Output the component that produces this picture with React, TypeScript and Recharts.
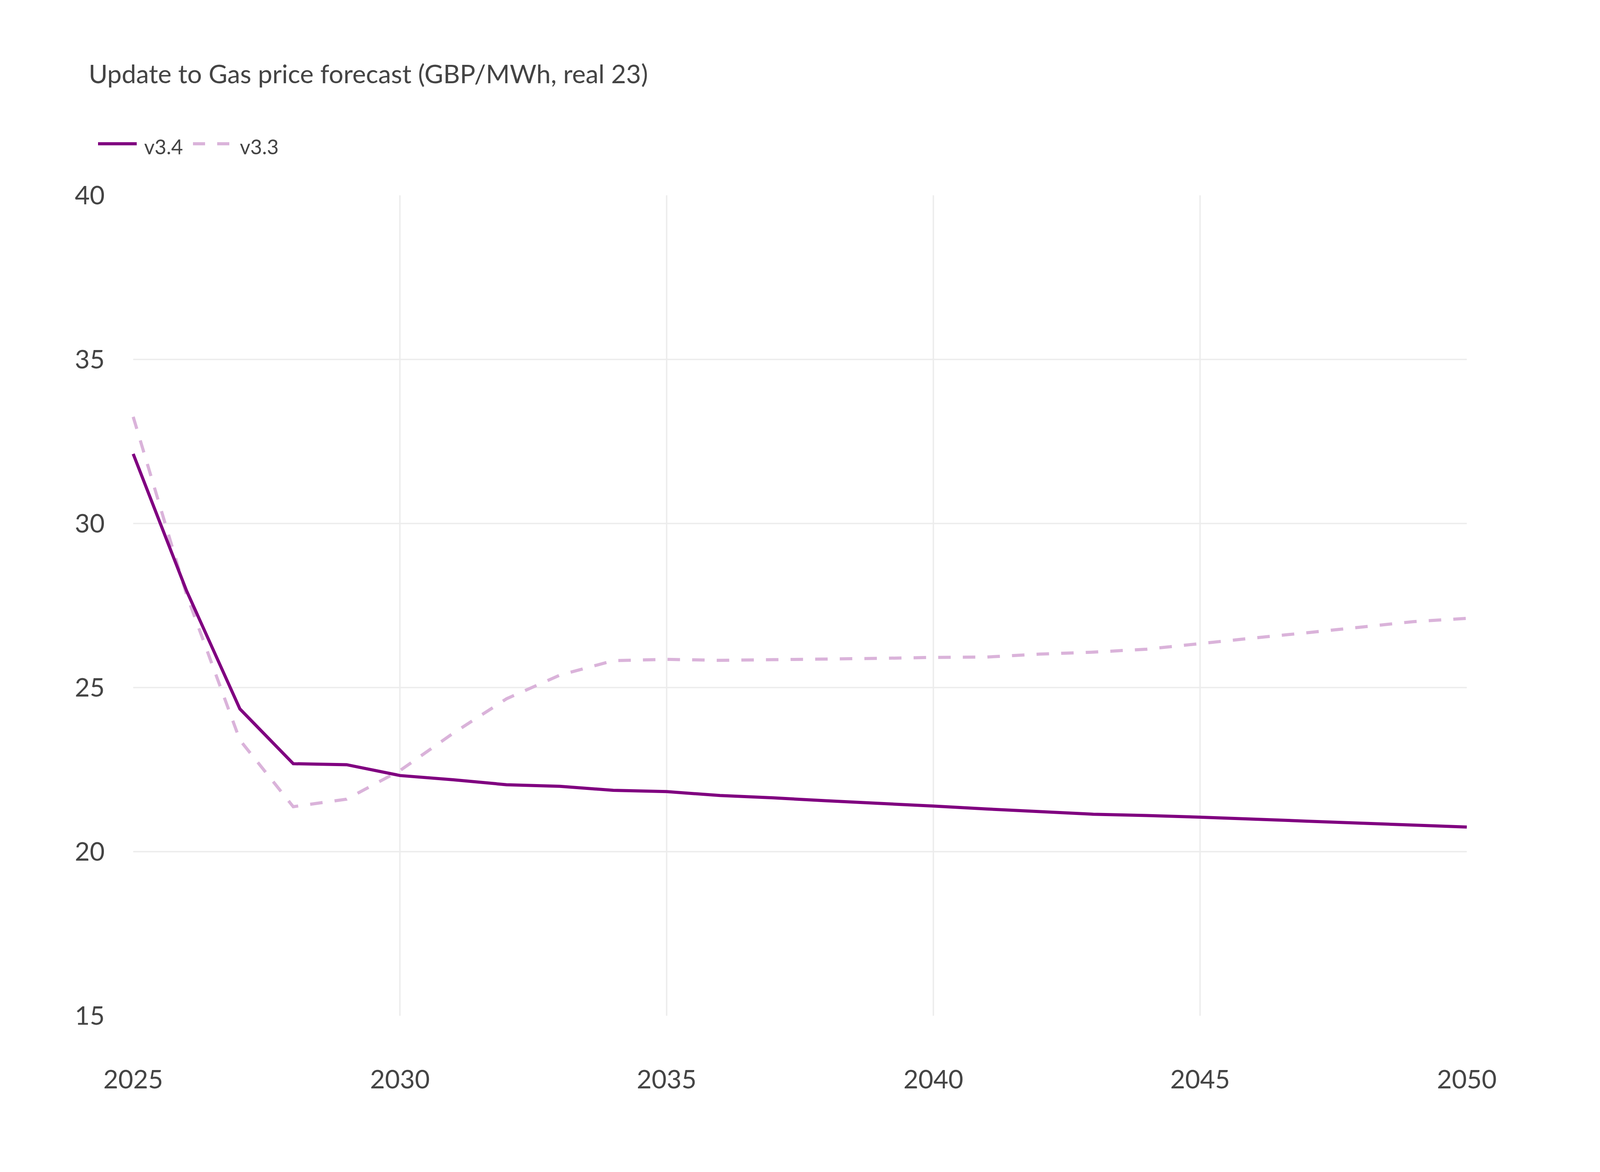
import { CartesianGrid, Line, LineChart, XAxis, YAxis } from "recharts";

const years = [
  2025, 2026, 2027, 2028, 2029, 2030, 2031, 2032, 2033, 2034, 2035, 2036, 2037,
  2038, 2039, 2040, 2041, 2042, 2043, 2044, 2045, 2046, 2047, 2048, 2049, 2050,
];

const v34 = [
  32.12, 27.95, 24.35, 22.68, 22.65, 22.32, 22.19, 22.04, 21.99, 21.87, 21.83, 21.71, 21.64,
  21.55, 21.47, 21.39, 21.3, 21.22, 21.14, 21.1, 21.05, 20.99, 20.93, 20.87, 20.81, 20.75,
];

const v33 = [
  33.25, 27.83, 23.4, 21.37, 21.6, 22.47, 23.61, 24.66, 25.38, 25.82, 25.86, 25.83, 25.85,
  25.87, 25.89, 25.92, 25.93, 26.02, 26.08, 26.17, 26.34, 26.51, 26.67, 26.84, 27.01, 27.11,
];

const xTicks = [2025, 2030, 2035, 2040, 2045, 2050];
const yTicks = [15, 20, 25, 30, 35, 40];
const gridX = [2030, 2035, 2040, 2045];
const gridY = [20, 25, 30, 35];

const TITLE = "Update to Gas price forecast (GBP/MWh, real 23)";
const SOLID = "#800080";
const LIGHT = "#dab3da";
const TEXT = "#444444";
const FONT = "Lato, 'Noto Sans', sans-serif";

// the browser is only 4096 wide, so the chart fills that (minus the 8px body margin)
const W = 4080;
const H = 2984;

const data = years.map((year, i) => ({ year, v34: v34[i], v33: v33[i] }));

// title + legend drawn outside recharts so the legend doesn't shrink the plot
function Header() {
  return (
    <svg width={2000} height={440} style={{ position: "absolute", left: 0, top: 0 }}>
      <text x={219} y={205} fontSize={66} fill={TEXT} fontFamily={FONT}>
        {TITLE}
      </text>
      <line x1={243} x2={342} y1={360} y2={360} stroke={SOLID} strokeWidth={8} />
      <text x={361} y={387} fontSize={52} fill={TEXT} fontFamily={FONT}>
        v3.4
      </text>
      <line x1={486} x2={583} y1={360} y2={360} stroke={LIGHT} strokeWidth={8} strokeDasharray="31 31" />
      <text x={606} y={387} fontSize={52} fill={TEXT} fontFamily={FONT}>
        v3.3
      </text>
    </svg>
  );
}

export default function App() {
  return (
    <div style={{ position: "relative", width: W, height: H, background: "#fff" }}>
      <LineChart
        width={W}
        height={H}
        data={data}
        margin={{ top: 492, right: 333, bottom: 292, left: 233 }}
      >
        <CartesianGrid
          stroke="#ececec"
          strokeWidth={3.5}
          horizontalValues={gridY}
          verticalValues={gridX}
        />
        <XAxis
          dataKey="year"
          type="number"
          domain={[2025, 2050]}
          ticks={xTicks}
          height={100}
          axisLine={false}
          tickLine={false}
          tickMargin={133}
          tick={{ fontSize: 66, fill: TEXT, fontFamily: FONT }}
        />
        <YAxis
          type="number"
          domain={[15, 40]}
          ticks={yTicks}
          width={100}
          axisLine={false}
          tickLine={false}
          tickMargin={67}
          tick={{ fontSize: 66, fill: TEXT, fontFamily: FONT }}
        />
        <Line
          type="linear"
          dataKey="v33"
          name="v3.3"
          stroke={LIGHT}
          strokeWidth={8}
          strokeDasharray="32 31"
          dot={false}
          isAnimationActive={false}
        />
        <Line
          type="linear"
          dataKey="v34"
          name="v3.4"
          stroke={SOLID}
          strokeWidth={8}
          dot={false}
          isAnimationActive={false}
        />
      </LineChart>
      <Header />
    </div>
  );
}
